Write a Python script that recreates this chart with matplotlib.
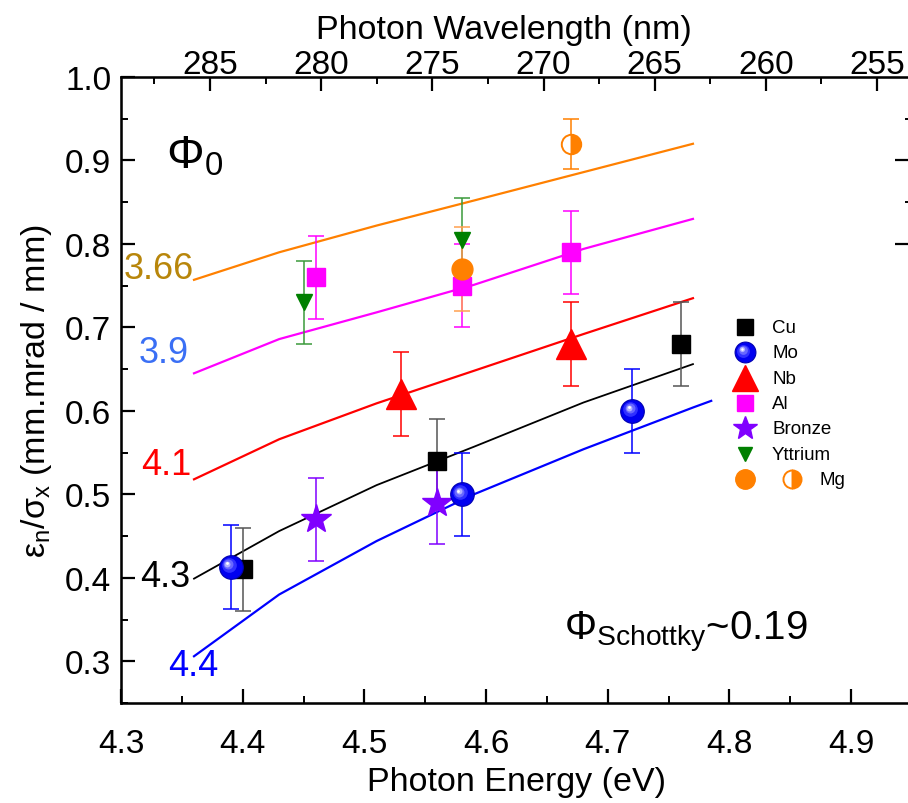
import matplotlib.pyplot as plt
from matplotlib.ticker import MultipleLocator, FormatStrFormatter, NullFormatter
from matplotlib.transforms import offset_copy

plt.rcParams['font.family'] = ['Liberation Sans', 'DejaVu Sans']
plt.rcParams['mathtext.fontset'] = 'custom'
plt.rcParams['mathtext.rm'] = 'Liberation Sans'
plt.rcParams['mathtext.it'] = 'Liberation Sans:italic'

# calculated emittance curves for each work function (eV)
curve_e = [4.36, 4.43, 4.51, 4.59, 4.68, 4.77]
curve_366 = [0.757, 0.790, 0.822, 0.852, 0.886, 0.920]
curve_39 = [0.645, 0.686, 0.718, 0.751, 0.794, 0.830]
curve_41 = [0.518, 0.566, 0.609, 0.648, 0.692, 0.735]
curve_43 = [0.399, 0.456, 0.511, 0.557, 0.610, 0.656]
curve_44_e = [4.36, 4.43, 4.51, 4.59, 4.68, 4.77, 4.785]
curve_44 = [0.306, 0.380, 0.444, 0.500, 0.554, 0.604, 0.612]

# measured emittance per photon energy
cu_e = [4.40, 4.56, 4.76]
cu_y = [0.41, 0.54, 0.68]
cu_err = [0.05, 0.05, 0.05]

mo_e = [4.39, 4.58, 4.72]
mo_y = [0.413, 0.50, 0.60]
mo_err = [0.05, 0.05, 0.05]

nb_e = [4.53, 4.67]
nb_y = [0.62, 0.68]
nb_err = [0.05, 0.05]

al_e = [4.46, 4.58, 4.67]
al_y = [0.76, 0.75, 0.79]
al_err = [0.05, 0.05, 0.05]

bronze_e = [4.46, 4.56]
bronze_y = [0.47, 0.49]
bronze_err = [0.05, 0.05]

y_e = [4.45, 4.58]
y_y = [0.73, 0.805]
y_err = [0.05, 0.05]

mg_e = [4.58]
mg_y = [0.77]
mg_err = [0.05]

mg2_e = [4.67]
mg2_y = [0.92]
mg2_err = [0.03]

wavelength_ticks = [285, 280, 275, 270, 265, 260, 255]

ORANGE = '#FF8000'
MAGENTA = '#FF00FF'
PURPLE = '#8000FF'
GREEN = '#008000'

fig = plt.figure(figsize=(9.08, 8.04), dpi=100)
ax = fig.add_axes([121 / 908, 100 / 804, 791 / 908, 626 / 804])

# theory curves
ax.plot(curve_e, curve_366, color=ORANGE, lw=1.6, zorder=2)
ax.plot(curve_e, curve_39, color=MAGENTA, lw=1.6, zorder=2)
ax.plot(curve_e, curve_41, color='red', lw=1.6, zorder=2)
ax.plot(curve_e, curve_43, color='black', lw=1.3, zorder=2)
ax.plot(curve_44_e, curve_44, color='blue', lw=1.6, zorder=2)

eb = dict(ls='none', capsize=6, elinewidth=1.1, capthick=1.1, zorder=3)
ax.errorbar(cu_e, cu_y, yerr=cu_err, ecolor='#555555', **eb)
ax.errorbar(mo_e, mo_y, yerr=mo_err, ecolor='blue', **eb)
ax.errorbar(nb_e, nb_y, yerr=nb_err, ecolor='red', **eb)
ax.errorbar(al_e, al_y, yerr=al_err, ecolor=MAGENTA, **eb)
ax.errorbar(bronze_e, bronze_y, yerr=bronze_err, ecolor=PURPLE, **eb)
ax.errorbar(y_e, y_y, yerr=y_err, ecolor='#3a9a3a', **eb)
ax.errorbar(mg_e, mg_y, yerr=mg_err, ecolor='#FFA050', **eb)
ax.errorbar(mg2_e, mg2_y, yerr=mg2_err, ecolor=ORANGE, **eb)


def sphere(axis, xs, ys, ms, **kw):
    # shaded blue ball: base disc plus offset highlights
    axis.plot(xs, ys, 'o', ms=ms, mfc='#0000F0', mec='#0000B0', mew=0.8, **kw)
    layers = [(0.62, '#3030FF', -1.2, 1.4), (0.42, '#6868FF', -1.8, 2.0),
              (0.25, '#B0B0FF', -2.2, 2.4), (0.12, 'white', -2.4, 2.6)]
    for frac, col, dx, dy in layers:
        tr = offset_copy(axis.transData, fig=fig, x=dx * ms / 17, y=dy * ms / 17,
                         units='points')
        axis.plot(xs, ys, 'o', ms=ms * frac, mfc=col, mec='none', transform=tr, **kw)


ax.plot(cu_e, cu_y, 's', ms=12.5, color='black', zorder=4)
sphere(ax, mo_e, mo_y, 17, zorder=5)
ax.plot(nb_e, nb_y, '^', ms=21, color='red', zorder=4)
ax.plot(al_e, al_y, 's', ms=12.5, color=MAGENTA, zorder=4)
ax.plot(bronze_e, bronze_y, '*', ms=22, color=PURPLE, mec=PURPLE, zorder=4)
ax.plot(y_e, y_y, 'v', ms=11, color=GREEN, zorder=4)
ax.plot(mg_e, mg_y, 'o', ms=15, color=ORANGE, zorder=4)
ax.plot(mg2_e, mg2_y, 'o', ms=14, fillstyle='right', mfc=ORANGE,
        mfcalt='white', mec=ORANGE, mew=1.4, zorder=4)

# legend drawn by hand in data coordinates
leg_x, txt_x = 4.8127, 4.835
rows = [0.700, 0.670, 0.639, 0.609, 0.579, 0.548, 0.518]
ax.plot(leg_x, rows[0], 's', ms=12, color='black')
sphere(ax, [leg_x], [rows[1]], 15)
ax.plot(leg_x, rows[2], '^', ms=19, color='red')
ax.plot(leg_x, rows[3], 's', ms=12, color=MAGENTA)
ax.plot(leg_x, rows[4], '*', ms=18, color=PURPLE)
ax.plot(leg_x, rows[5], 'v', ms=10, color=GREEN)
ax.plot(leg_x, rows[6], 'o', ms=14, color=ORANGE)
ax.plot(4.851, rows[6], 'o', ms=13, fillstyle='right', mfc=ORANGE,
        mfcalt='white', mec=ORANGE, mew=1.4)
for name, yy in zip(['Cu', 'Mo', 'Nb', 'Al', 'Bronze', 'Yttrium'], rows):
    ax.text(txt_x, yy, name, fontsize=13.5, va='center', ha='left')
ax.text(4.874, rows[6], 'Mg', fontsize=13.5, va='center', ha='left')

# work function labels
ax.text(4.360, 0.770, '3.66', color='#B8860B', fontsize=26, ha='right', va='center')
ax.text(4.356, 0.670, '3.9', color='#3A6FF5', fontsize=26, ha='right', va='center')
ax.text(4.358, 0.536, '4.1', color='red', fontsize=26, ha='right', va='center')
ax.text(4.357, 0.402, '4.3', color='black', fontsize=26, ha='right', va='center')
ax.text(4.380, 0.295, '4.4', color='blue', fontsize=26, ha='right', va='center')

ax.text(4.337, 0.892, r'$\mathregular{\Phi_0}$', fontsize=34, ha='left', va='baseline')
ax.text(4.664, 0.327, r'$\mathregular{\Phi_{Schottky}}$~0.19', fontsize=29,
        ha='left', va='baseline')

ax.set_xlim(4.3, 4.95)
ax.set_ylim(0.25, 1.0)
ax.xaxis.set_major_locator(MultipleLocator(0.1))
ax.xaxis.set_minor_locator(MultipleLocator(0.05))
ax.yaxis.set_major_locator(MultipleLocator(0.1))
ax.yaxis.set_minor_locator(MultipleLocator(0.05))
ax.xaxis.set_major_formatter(FormatStrFormatter('%.1f'))
ax.yaxis.set_major_formatter(FormatStrFormatter('%.1f'))
ax.set_yticks([0.3, 0.4, 0.5, 0.6, 0.7, 0.8, 0.9, 1.0])

ax.set_xlabel('Photon Energy (eV)', fontsize=24.5, labelpad=5)
ax.set_ylabel(r'$\mathregular{\varepsilon_n/\sigma_x}$ (mm.mrad / mm)', fontsize=24.5,
              labelpad=8)

for side in ['left', 'bottom', 'top', 'right']:
    ax.spines[side].set_linewidth(1.8)
ax.tick_params(which='both', direction='in', labelsize=24, top=False, right=False)
ax.tick_params(axis='x', which='major', length=10, width=1.6, pad=18)
ax.tick_params(axis='y', which='major', length=10, width=1.6, pad=7)
ax.tick_params(which='minor', length=5, width=1.4)

# wavelength scale along the top
ax_top = ax.twiny()
ax_top.set_xlim(289.0, 253.43)
ax_top.set_xticks(wavelength_ticks)
ax_top.xaxis.set_minor_locator(MultipleLocator(2.5))
ax_top.tick_params(which='both', direction='in', labelsize=24)
ax_top.tick_params(which='major', length=10, width=1.6, pad=-2)
ax_top.tick_params(which='minor', length=5, width=1.4)
ax_top.set_xlabel('Photon Wavelength (nm)', fontsize=24.5)
ax_top.xaxis.set_label_coords(0.484, 1.062)

ax_r = ax.twinx()
ax_r.set_ylim(0.25, 1.0)
ax_r.set_yticks([0.8, 0.9])
ax_r.set_yticks([0.85, 0.95], minor=True)
ax_r.yaxis.set_major_formatter(NullFormatter())
ax_r.tick_params(which='both', direction='in')
ax_r.tick_params(which='major', length=12, width=1.6)
ax_r.tick_params(which='minor', length=5, width=1.4)

fig.savefig('out.png', dpi=100)
